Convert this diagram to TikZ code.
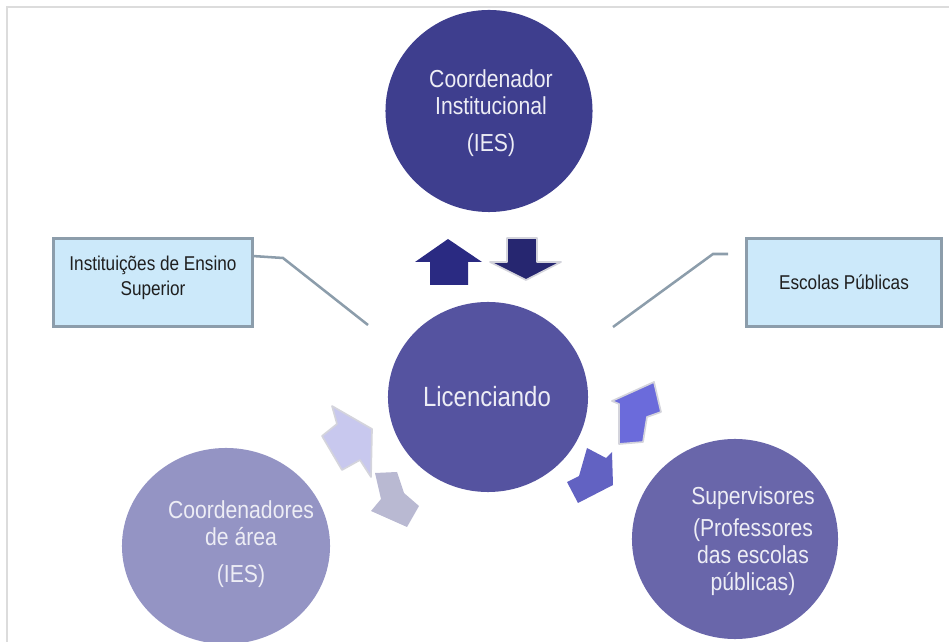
\documentclass[tikz,border=0pt]{standalone}
\usepackage{fontspec}
\setmainfont[FakeStretch=0.86]{Liberation Sans}
\usetikzlibrary{shapes.geometric}
\definecolor{coordblue}{HTML}{3E3E8E}
\definecolor{licblue}{HTML}{5553A0}
\definecolor{areablue}{HTML}{9494C4}
\definecolor{supblue}{HTML}{6966AA}
\definecolor{boxfill}{HTML}{CCE9FA}
\definecolor{boxedge}{HTML}{8C9DAB}
\definecolor{circtextcol}{HTML}{EDEDF5}
\definecolor{upblue}{HTML}{2A2A82}
\definecolor{downblue}{HTML}{262670}
\definecolor{lightlav}{HTML}{C8C8EE}
\definecolor{greylav}{HTML}{B9B9D2}
\definecolor{brightlav}{HTML}{6B6BDB}
\definecolor{midlav}{HTML}{6262C2}
\definecolor{arrowedge}{HTML}{D4D4DC}
\definecolor{framegrey}{HTML}{DCDCDC}
\tikzstyle{circ} = [ellipse, inner sep=0pt]
\tikzstyle{circtext} = [text=circtextcol, align=center, font=\fontsize{17.5}{19}\selectfont]
\tikzstyle{infobox} = [rectangle, draw=boxedge, line width=2.1pt, fill=boxfill, text=black!88, align=center, font=\fontsize{14.2}{18}\selectfont, minimum width=4.975cm, minimum height=2.2cm]
\tikzstyle{link} = [draw=boxedge, line width=1.8pt]
\tikzstyle{edged} = [draw=arrowedge, line width=1.2pt, line join=round]

\begin{document}
\begin{tikzpicture}[x=0.025cm, y=-0.025cm]
\useasboundingbox (0,0) rectangle (949,642);
\draw[framegrey, line width=1pt] (7,642) -- (7,7) -- (949,7);

% circles
\node (coord) [circ, fill=coordblue, minimum width=5.175cm, minimum height=5.05cm] at (489,111) {};
\node (lic) [circ, fill=licblue, minimum width=5cm, minimum height=4.75cm] at (488,397) {};
\node (area) [circ, fill=areablue, minimum width=5.2cm, minimum height=4.9cm] at (226,546) {};
\node (superv) [circ, fill=supblue, minimum width=5.15cm, minimum height=5cm] at (735,539) {};

\node (coordtxt) [circtext] at (491,113) {Coordenador\\Institucional\\[7pt](IES)};
\node (lictxt) [circtext, font=\fontsize{19.8}{22}\selectfont] at (487,397) {Licenciando};
\node (areatxt) [circtext] at (241,544) {Coordenadores\\de área\\[7pt](IES)};
\node (supervtxt) [circtext] at (753,541) {Supervisores\\[4pt](Professores\\das escolas\\públicas)};

% boxes
\node (ies) [infobox] at (153,282.5) {Instituições de Ensino\\Superior\\[-8pt]};
\node (escolas) [infobox, minimum width=4.875cm] at (844,282.5) {Escolas Públicas};

\coordinate (iesbend) at (283,258);
\coordinate (iesend) at (368,325);
\coordinate (escstart) at (728,254);
\coordinate (escbend) at (713,254);
\coordinate (escend) at (613,327);
\draw [link] ([yshift=0.66cm]ies.east) -- (iesbend) -- (iesend);
\draw [link] (escstart) -- (escbend) -- (escend);

% arrows
\fill [upblue] (415,262) -- (448,239) -- (482,262) -- (468,262) -- (468,285) -- (430,285) -- (430,262) -- cycle;
\filldraw [fill=downblue, edged] (507,238) -- (537,238) -- (537,262) -- (561,262) -- (526,280) -- (490,262) -- (507,262) -- cycle;
\filldraw [fill=lightlav, edged] (332,406) -- (372,429) -- (371,477) -- (360,460) -- (342,470) -- (322,436) -- (337,424) -- cycle;
\fill [greylav] (375,473) -- (397,472) -- (404,493) -- (419,506) -- (407,527) -- (371,511) -- (381,499) -- cycle;
\filldraw [fill=brightlav, edged] (612,401) -- (654,382) -- (661,412) -- (647,417) -- (643,442) -- (619,444) -- (619,404) -- cycle;
\fill [midlav] (587,448) -- (606,458) -- (612,452) -- (613,485) -- (578,503) -- (567,482) -- (579,476) -- cycle;
\end{tikzpicture}
\end{document}
